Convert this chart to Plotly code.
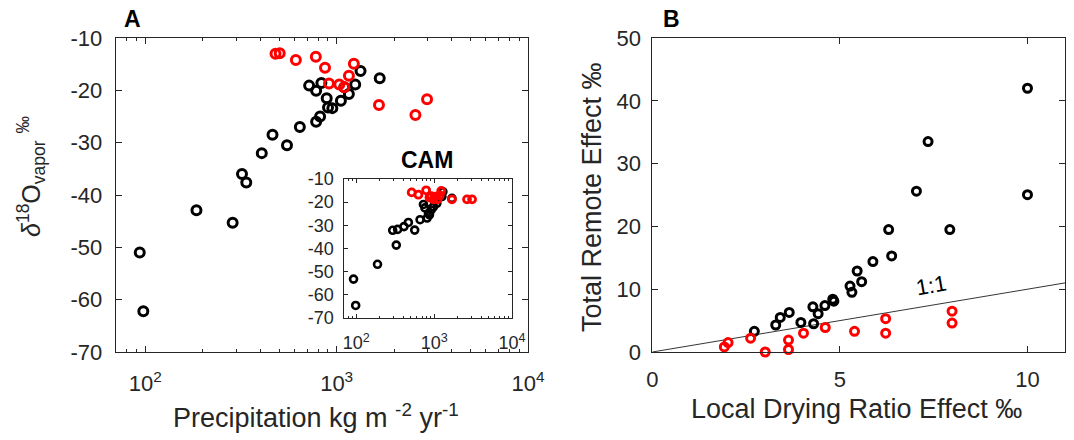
import plotly.graph_objects as go
import numpy as np

# ---------------- data ----------------
# Panel A main (observations): precipitation (kg m-2 yr-1) vs d18O vapor (permil)
a_black_x = [93.5, 97.6, 185, 286, 320, 337, 406, 462, 550, 642, 718, 781, 832, 781, 819,
             887, 901, 949, 1052, 1158, 1250, 1333, 1679, 1096]
a_black_y = [-51.0, -62.2, -42.9, -45.3, -36.0, -37.6, -32.0, -28.5, -30.5, -27.0, -19.1, -20.1,
             -18.6, -26.0, -25.0, -21.5, -23.3, -23.4, -22.0, -20.7, -18.9, -16.3, -17.7, -19.4]
a_red_x = [479, 504, 612, 778, 869, 1230, 912, 1032, 1096, 1159, 1664, 2580, 2967]
a_red_y = [-13.0, -12.9, -14.2, -13.6, -15.7, -14.9, -18.7, -18.9, -19.4, -17.2, -22.8, -24.7, -21.7]

# Panel A inset (CAM)
cam_black_x = [92, 98, 187, 326, 293, 339, 409, 466, 562, 659, 811, 728, 845, 915, 980, 1082,
               1256, 1691, 1293, 760, 870]
cam_black_y = [-53.3, -64.7, -46.9, -38.6, -32.2, -31.8, -30.6, -28.8, -32.1, -27.6, -26.9,
               -21.0, -24.9, -23.4, -22.0, -20.5, -17.6, -18.4, -15.5, -22.5, -25.5]
cam_red_x = [514, 627, 788, 915, 980, 1104, 1232, 1030, 1691, 2642, 3069, 870, 1180]
cam_red_y = [-15.8, -16.8, -14.9, -17.4, -18.8, -18.8, -15.2, -17.6, -18.8, -18.8, -18.8,
             -18.0, -17.0]

# Panel B: local drying ratio effect vs total remote effect (permil)
b_black_x = [10.0, 7.35, 7.04, 10.0, 6.30, 7.93, 6.38, 5.88, 5.46, 5.58, 5.27, 5.32, 4.81, 4.84,
             4.60, 4.28, 4.42, 4.30, 3.96, 3.65, 3.41, 3.29, 2.72]
b_black_y = [42.0, 33.5, 25.6, 25.05, 19.5, 19.5, 15.3, 14.4, 12.9, 11.2, 10.5, 9.5, 8.4, 8.1,
             7.4, 7.2, 6.1, 4.5, 4.7, 6.3, 5.5, 4.3, 3.3]
b_red_x = [1.92, 2.02, 2.62, 3.01, 3.63, 3.63, 4.03, 4.61, 5.39, 6.22, 6.22, 7.99, 7.99]
b_red_y = [0.8, 1.5, 2.2, 0.0, 1.9, 0.4, 3.0, 3.9, 3.3, 5.3, 3.0, 6.5, 4.6]

one_to_one = [0, 11]

log_tickvals = [100, 1000, 10000]
log_ticktext = ['10<sup>2</sup>', '10<sup>3</sup>', '10<sup>4</sup>']
a_yticks = [-70, -60, -50, -40, -30, -20, -10]
a_yticktext = ['-70', '-60', '-50', '-40', '-30', '-20', '-10']
b_xticks = [0, 5, 10]
b_yticks = [0, 10, 20, 30, 40, 50]

# ---------------- figure ----------------
W, H = 1074, 440
FONT = 'Liberation Sans'
AX = '#262626'

def px_x(a, b):
    return [a / W, b / W]

def px_y(top, bottom):
    return [1 - bottom / H, 1 - top / H]

minor_log = [v * 10 ** e for e in (1, 2, 3) for v in range(2, 10)]

def axis(size, **kw):
    d = dict(showline=True, linecolor=AX, linewidth=1, mirror='ticks', ticks='inside',
             ticklen=6, tickcolor=AX, tickwidth=1, showgrid=False, zeroline=False,
             automargin=False,
             tickfont=dict(family=FONT, size=size, color=AX))
    d.update(kw)
    return d

fig = go.Figure()

def ring(x, y, color, xa, ya, size, lw):
    fig.add_trace(go.Scatter(x=x, y=y, mode='markers', xaxis=xa, yaxis=ya,
                             marker=dict(symbol='circle-open', size=size, color=color,
                                         line=dict(width=lw, color=color)),
                             cliponaxis=False, showlegend=False, hoverinfo='skip'))

ring(a_black_x, a_black_y, 'black', 'x', 'y', 9, 3)
ring(a_red_x, a_red_y, '#ff0000', 'x', 'y', 9, 3)

fig.add_trace(go.Scatter(x=one_to_one, y=one_to_one, mode='lines', xaxis='x2', yaxis='y2',
                         line=dict(color='black', width=0.8), showlegend=False,
                         hoverinfo='skip'))
ring(b_black_x, b_black_y, 'black', 'x2', 'y2', 8, 3)
ring(b_red_x, b_red_y, '#ff0000', 'x2', 'y2', 8, 3)

ring(cam_black_x, cam_black_y, 'black', 'x3', 'y3', 7, 2.6)
ring(cam_red_x, cam_red_y, '#ff0000', 'x3', 'y3', 7, 2.8)

fig.update_layout(
    width=W, height=H, autosize=False,
    margin=dict(l=0, r=0, t=0, b=0, pad=0, autoexpand=False),
    paper_bgcolor='white', plot_bgcolor='white',
    font=dict(family=FONT, color=AX),
    xaxis=axis(22, domain=px_x(115.7, 528), type='log', range=[np.log10(70), 4],
               tickvals=log_tickvals, ticktext=log_ticktext, anchor='y',
               ticklabelstandoff=12,
               minor=dict(ticks='inside', ticklen=3, tickcolor=AX, tickvals=minor_log)),
    yaxis=axis(22, domain=px_y(38, 352), range=[-70, -10], tickvals=a_yticks,
               ticktext=a_yticktext, anchor='x', ticklabelstandoff=8),
    xaxis2=axis(22, domain=px_x(652.3, 1065), range=[0, 11], tickvals=b_xticks, anchor='y2',
                ticklabelstandoff=8),
    yaxis2=axis(22, domain=px_y(38, 352), range=[0, 50], tickvals=b_yticks, anchor='x2',
                ticklabelstandoff=6),
    xaxis3=axis(18, domain=px_x(344.3, 512), type='log', range=[np.log10(70), 4],
                tickvals=log_tickvals, ticktext=log_ticktext, anchor='y3', ticklen=4,
                ticklabelstandoff=9,
                minor=dict(ticks='inside', ticklen=2, tickcolor=AX, tickvals=minor_log)),
    yaxis3=axis(18, domain=px_y(179, 317.7), range=[-70, -10], tickvals=a_yticks,
                ticktext=a_yticktext, anchor='x3', ticklen=4, ticklabelstandoff=6),
)

def ann(text, x, y, size, bold=False, angle=0, xref='paper', yref='paper'):
    fig.add_annotation(text=('<b>%s</b>' % text) if bold else text,
                       x=x / W if xref == 'paper' else x,
                       y=1 - y / H if yref == 'paper' else y,
                       xref=xref, yref=yref, showarrow=False, textangle=angle,
                       xanchor='center', yanchor='middle',
                       font=dict(family=FONT, size=size, color='black' if bold else AX))

ann('A', 132, 19, 23, bold=True)
ann('B', 671, 19, 23, bold=True)
ann('CAM', 427, 160, 23, bold=True)
ann('<i>δ</i><sup>18</sup>O<sub>vapor</sub> <sup>‰</sup>', 31, 176, 25, angle=-90)
ann('Total Remote Effect ‰', 592, 197, 27, angle=-90)
ann('Precipitation kg m <sup>-2</sup> yr<sup>-1</sup>', 316, 416, 27)
ann('Local Drying Ratio Effect ‰', 856, 409, 27)
fig.add_annotation(text='1:1', x=7.43, y=10.6, xref='x2', yref='y2', showarrow=False,
                   textangle=-10, font=dict(family=FONT, size=22, color='black'))

fig.write_html(
    'out.html',
    config={'displayModeBar': False},
    post_script="document.body.style.margin='0';document.body.style.padding='0';"
                "document.documentElement.style.overflow='hidden';",
)
